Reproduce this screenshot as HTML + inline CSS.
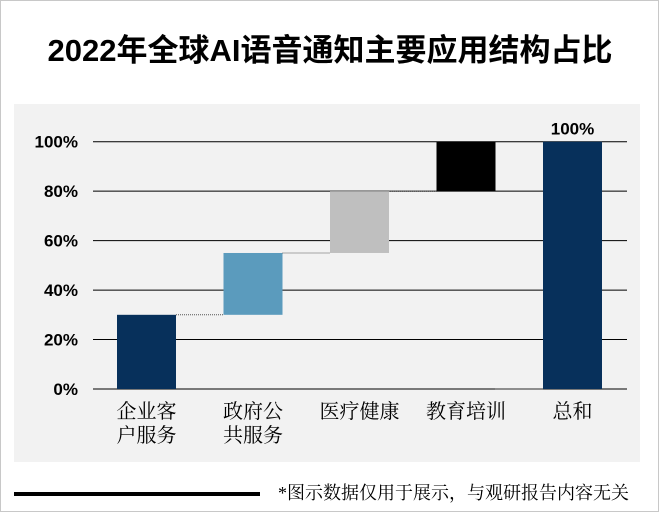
<!DOCTYPE html>
<html><head><meta charset="utf-8"><style>
body{margin:0;background:#fff;}
#wrap{position:relative;width:660px;height:513px;overflow:hidden;font-family:"Liberation Sans","Noto Sans CJK SC",sans-serif;}
</style></head><body>
<div id="wrap">
<div style="position:absolute;left:0;top:0;width:657px;height:510px;border:1.5px solid #c8c8c8;"></div>
<div style="position:absolute;left:0;top:33px;width:660px;text-align:center;font-size:31px;line-height:36px;font-weight:bold;color:#000;">2022年全球AI语音通知主要应用结构占比</div>
<div style="position:absolute;left:14px;top:104px;width:626px;height:358px;background:#f2f2f2;"></div>
<svg id="chart" width="660" height="513" style="position:absolute;left:0;top:0;"></svg>
<div style="position:absolute;left:14px;top:492px;width:246px;height:4px;background:#000;"></div>
<div style="position:absolute;left:278px;top:482px;font-size:18px;line-height:22px;color:#000;font-family:'Liberation Serif','Noto Serif CJK SC',serif;white-space:nowrap;">*图示数据仅用于展示，与观研报告内容无关</div>
</div>
<script>
const categories=["企业客户服务","政府公共服务","医疗健康","教育培训","总和"];
const labelLines=[["企业客","户服务"],["政府公","共服务"],["医疗健康"],["教育培训"],["总和"]];
const values=[30,25,25,20,100];
const colors=["#07305b","#5b9bbd","#bfbfbf","#000000","#07305b"];
const ticks=[0,20,40,60,80,100];
const ns="http://www.w3.org/2000/svg";
const svg=document.getElementById('chart');
const y0=389,y100=141.7,xL=93,xR=627,bw=59,step=106.5,first=146.5;
const y=v=>y0-(y0-y100)*v/100;
const x=i=>first+i*step;
function mk(t,a){const e=document.createElementNS(ns,t);for(const k in a)e.setAttribute(k,a[k]);svg.appendChild(e);return e;}
ticks.forEach(t=>{
 const l=mk('line',{x1:xL,x2:xR,y1:y(t),y2:y(t),stroke:'#000','stroke-width':1});
 
 
 const tx=mk('text',{x:78,y:y(t)+6,'text-anchor':'end','font-size':17,'font-weight':'bold','font-family':'Liberation Sans, sans-serif'});
 tx.textContent=t+'%';
 
 
});
let cum=0;
values.forEach((v,i)=>{
 const isTotal=i===values.length-1;
 const base=isTotal?0:cum, top=isTotal?v:cum+v;
 if(i>0){
  const c=mk('line',{x1:x(i-1)+bw/2,x2:x(i)-bw/2,y1:y(base),y2:y(base),stroke:'#555','stroke-width':1,'stroke-dasharray':'1,1'});
  
  
 }
 const r=mk('rect',{x:x(i)-bw/2,y:y(top),width:bw,height:y(base)-y(top),fill:colors[i]});
 
 
 if(!isTotal)cum+=v;
 labelLines[i].forEach((ln,j)=>{
  const t=mk('text',{x:x(i),y:418+j*24,'text-anchor':'middle','font-size':20,'font-family':'Liberation Serif, Noto Serif CJK SC, serif'});
  t.textContent=ln;
  
  
 });
 if(isTotal){
  const t=mk('text',{x:x(i),y:y(top)-7,'text-anchor':'middle','font-size':17,'font-weight':'bold','font-family':'Liberation Sans, sans-serif'});
  t.textContent=v+'%';
  
  
 }
});
</script>
</body></html>
